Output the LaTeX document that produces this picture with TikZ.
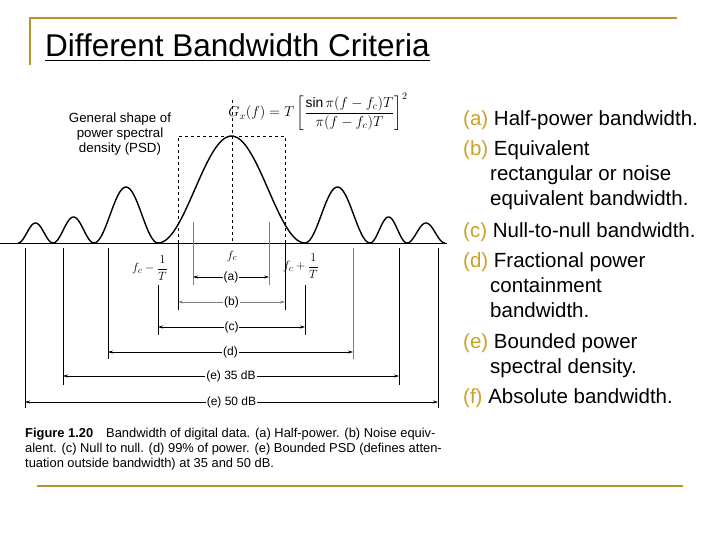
\documentclass[tikz,border=0pt]{standalone}
\usepackage{amsmath}
\usepackage{fontspec}
\setmainfont{Liberation Sans}
\usetikzlibrary{arrows.meta}
\definecolor{gold}{HTML}{B8962E}
\definecolor{lab}{HTML}{C9A227}
\begin{document}
\begin{tikzpicture}[x=1pt,y=-1pt,
  rt/.style={anchor=base west,inner sep=0,font=\fontsize{20.5}{22}\selectfont},
  dim/.style={{Stealth[length=5pt,width=3pt]}-{Stealth[length=5pt,width=3pt]},line width=0.6pt},
  dl/.style={fill=white,inner sep=1pt,font=\fontsize{12}{13}\selectfont},
  vl/.style={line width=0.6pt},
  captxt/.style={anchor=base west,inner sep=0,font=\fontsize{12.9}{14}\selectfont}]
\useasboundingbox (0,0) rectangle (720,540);
% frame lines
\draw[gold,line width=2pt] (30,65) -- (30,18) -- (677,18);
\draw[gold,line width=2pt] (37,486) -- (683,486);
\node[anchor=base west,inner sep=0,font=\fontsize{31.5}{33}\selectfont] (title) at (45,57) {\underline{Different Bandwidth Criteria}};
% axis
\draw[line width=1pt] (0,243) -- (447,243);
% lobes
\foreach \a/\b/\h in {18/53/20, 53/94/26, 94/158/56, 158/305/107, 305/370/56, 370/407/26, 407/445/20}{
  \draw[line width=1.4pt] plot[domain=\a:\b,samples=40,smooth] (\x,{243-\h*(sin(180/(\b-\a)*(\x-\a)))^2});
}
% dashed rectangle and center
\draw[dashed,line width=0.6pt] (178,243) -- (178,136) -- (285,136) -- (285,243);
\draw[dashed,line width=0.6pt] (232,100) -- (232,243);
% verticals
\draw[gray,line width=0.5pt] (193,222) -- (193,285);
\draw[gray,line width=0.5pt] (269,222) -- (269,285);
\draw[vl] (178,243) -- (178,310); \draw[vl] (285,243) -- (285,310);
\draw[vl] (158,285) -- (158,335); \draw[vl] (305,285) -- (305,335);
\draw[vl] (108,248) -- (108,359); \draw[gray,line width=0.5pt] (353,248) -- (353,359);
\draw[vl] (63,248) -- (63,385); \draw[vl] (399,248) -- (399,385);
\draw[vl] (25,248) -- (25,408); \draw[vl] (438,248) -- (438,408);
% dimension lines
\coordinate (a1) at (193,277); \coordinate (a2) at (269,277);
\coordinate (b1) at (178,302); \coordinate (b2) at (285,302);
\coordinate (c1) at (158,327); \coordinate (c2) at (305,327);
\coordinate (d1) at (108,352); \coordinate (d2) at (353,352);
\coordinate (e1) at (63,376); \coordinate (e2) at (399,376);
\coordinate (f1) at (25,402); \coordinate (f2) at (438,402);
\draw[dim] (a1) -- node[dl] {(a)} (a2);
\draw[dim,gray] (b1) -- node[dl,text=black] {(b)} (b2);
\draw[dim] (c1) -- node[dl] {(c)} (c2);
\draw[dim] (d1) -- node[dl] {(d)} (d2);
\draw[dim] (e1) -- node[dl] {(e) 35 dB} (e2);
\draw[dim] (f1) -- node[dl] {(e) 50 dB} (f2);
% labels
\node[font=\fontsize{12.5}{13}\selectfont] (fm) at (150,268) {$f_c-\dfrac{1}{T}$};
\node[font=\fontsize{12.5}{13}\selectfont] (fc) at (232,256) {$f_c$};
\node[font=\fontsize{12.5}{13}\selectfont] (fp) at (301,266) {$f_c+\dfrac{1}{T}$};
\node[align=center,font=\fontsize{13.3}{15}\selectfont] (gen) at (120,134) {General shape of\\power spectral\\density (PSD)};
\node[font=\fontsize{13.8}{15}\selectfont] (eq) at (318,112) {$G_x(f)=T\left[\dfrac{\sin\pi(f-f_c)T}{\pi(f-f_c)T}\right]^2$};
% caption
\node[captxt] (c1t) at (25,437) {\textbf{Figure 1.20}\quad Bandwidth of digital data. (a) Half-power. (b) Noise equiv-};
\node[captxt] (c2t) at (25,452) {alent. (c) Null to null. (d) 99\% of power. (e) Bounded PSD (defines atten-};
\node[captxt] (c3t) at (25,467) {tuation outside bandwidth) at 35 and 50 dB.};
% right text
\node[rt] (r1) at (463,126) {\textcolor{lab}{(a)} Half-power bandwidth.};
\node[rt] (r2) at (463,156) {\textcolor{lab}{(b)} Equivalent};
\node[rt] (r3) at (490,181) {rectangular or noise};
\node[rt] (r4) at (490,206) {equivalent bandwidth.};
\node[rt] (r5) at (463,237) {\textcolor{lab}{(c)} Null-to-null bandwidth.};
\node[rt] (r6) at (463,267) {\textcolor{lab}{(d)} Fractional power};
\node[rt] (r7) at (490,292) {containment};
\node[rt] (r8) at (490,317) {bandwidth.};
\node[rt] (r9) at (463,348) {\textcolor{lab}{(e)} Bounded power};
\node[rt] (r10) at (490,373) {spectral density.};
\node[rt] (r11) at (463,403) {\textcolor{lab}{(f)} Absolute bandwidth.};
\end{tikzpicture}
\end{document}
